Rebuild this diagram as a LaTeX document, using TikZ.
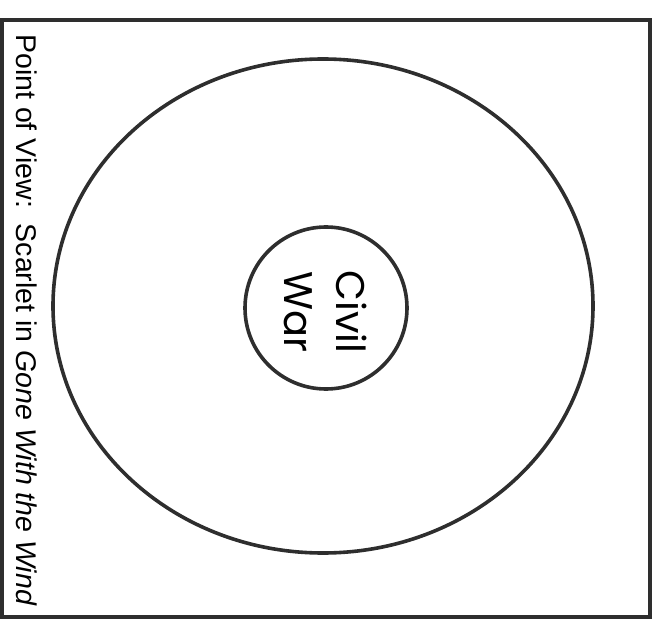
\documentclass[tikz,border=0pt]{standalone}
\usepackage{fontspec}
\setmainfont{Liberation Sans}
\newfontfamily\gothic{Poppins}

\tikzset{
  outline/.style={draw=black!82, line width=4pt},
  ring/.style={draw=black!82, line width=3.6pt},
}

\begin{document}
\begin{tikzpicture}[x=1pt,y=-1pt]
\def\cx{323}
\def\cy{306}
\def\Rx{270}
\def\Ry{247}
\def\r{81}

\useasboundingbox (0,0) rectangle (656,620);

% Frame
\draw[outline] (2,20) rectangle (650,617);

% Outer ellipse and inner circle
\draw[ring] (\cx,\cy) ellipse [x radius=\Rx, y radius=\Ry];
\draw[ring] (326,308) circle [radius=\r];

% Labels
\node[rotate=-90, anchor=center, inner sep=0pt, font=\fontsize{28.5}{34}\selectfont]
  (pov) at (27,320) {Point of View:\ \ Scarlet in \textit{Gone With the Wind}};
\node[rotate=-90, align=center, inner sep=0pt, font=\gothic\fontsize{40}{52}\selectfont]
  (war) at (326,312) {Civil\\War};
\end{tikzpicture}
\end{document}
